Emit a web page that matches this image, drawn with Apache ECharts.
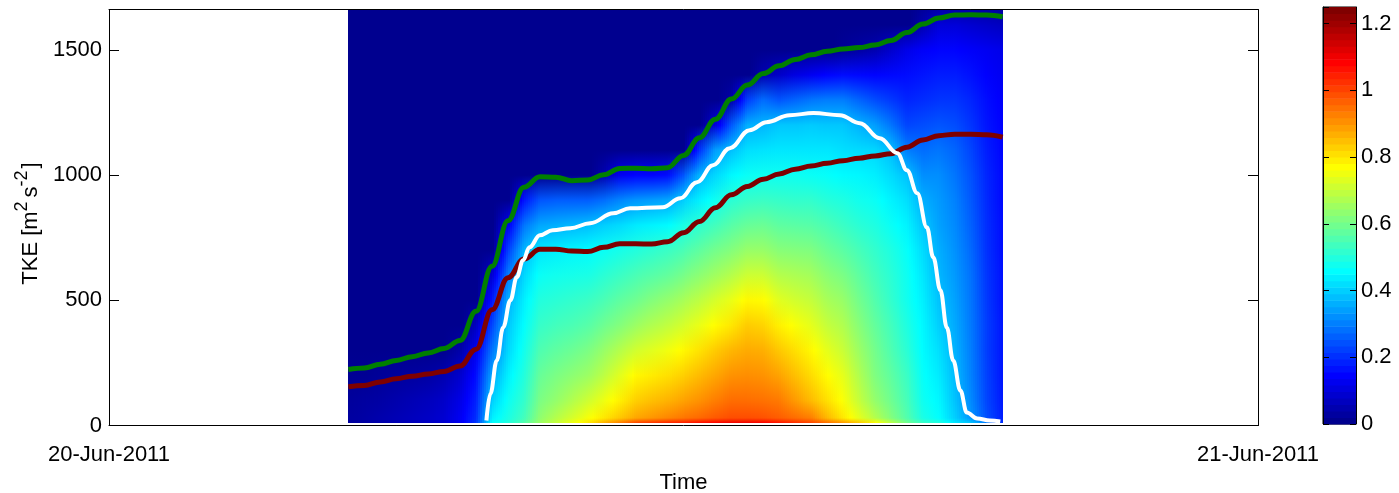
<!DOCTYPE html>
<html>
<head>
<meta charset="utf-8">
<script src="https://cdn.jsdelivr.net/npm/echarts@6/dist/echarts.min.js"></script>
<style>
  html, body { margin: 0; padding: 0; background: #fff; }
  #chart { width: 1399px; height: 493px; }
</style>
</head>
<body>
<div id="chart"></div>
<script>
// Day labels on the time axis
const DAY_LABELS = ['20-Jun-2011', '21-Jun-2011'];

// Sampling times of the TKE field and of the green / dark red heights
const FIELD_TIMES = ['05:00','05:20','05:40','06:00','06:20','06:40','07:00','07:20','07:40','08:00',
  '08:20','08:40','09:00','09:20','09:40','10:00','10:20','10:40','11:00','11:20',
  '11:40','12:00','12:20','12:40','13:00','13:20','13:40','14:00','14:20','14:40',
  '15:00','15:20','15:40','16:00','16:20','16:40','17:00','17:20','17:40','18:00',
  '18:20','18:40'];

// Heights (m) of the profile levels
const HEIGHTS = [10, 30, 100, 200, 300, 400, 500, 600, 700, 800, 900, 1000, 1100, 1200, 1300, 1400, 1500, 1600, 1700];

// TKE profiles, one per time, from the lowest level upward; levels past the end of a profile are 0
const TKE_PROFILES = [
  [0.03,0.03,0.025,0.015],
  [0.035,0.035,0.03,0.015],
  [0.045,0.045,0.035,0.02],
  [0.055,0.055,0.045,0.025],
  [0.065,0.065,0.055,0.03],
  [0.075,0.075,0.065,0.035],
  [0.09,0.09,0.08,0.05,0.01],
  [0.13,0.13,0.115,0.085,0.04],
  [0.21,0.2,0.185,0.16,0.125,0.07],
  [0.46,0.44,0.4,0.35,0.29,0.23,0.17,0.09],
  [0.5,0.49,0.47,0.44,0.41,0.39,0.36,0.3,0.22,0.13],
  [0.56,0.54,0.52,0.5,0.48,0.46,0.44,0.41,0.37,0.29,0.17],
  [0.65,0.635,0.61,0.585,0.555,0.525,0.5,0.47,0.43,0.35,0.25],
  [0.7,0.68,0.64,0.61,0.575,0.54,0.51,0.48,0.44,0.36,0.26],
  [0.75,0.72,0.675,0.63,0.59,0.55,0.52,0.485,0.45,0.37,0.26],
  [0.8,0.76,0.71,0.65,0.61,0.565,0.53,0.49,0.455,0.38,0.26],
  [0.87,0.8,0.75,0.69,0.645,0.595,0.55,0.51,0.47,0.4,0.28,0.05],
  [0.93,0.84,0.79,0.735,0.68,0.62,0.575,0.53,0.485,0.415,0.31,0.13],
  [1.0,0.88,0.83,0.78,0.715,0.65,0.595,0.55,0.5,0.435,0.33,0.15],
  [1.02,0.9,0.85,0.795,0.735,0.675,0.62,0.565,0.515,0.445,0.34,0.15],
  [1.04,0.92,0.865,0.81,0.755,0.695,0.64,0.58,0.53,0.455,0.35,0.16],
  [1.05,0.94,0.885,0.83,0.78,0.72,0.665,0.605,0.55,0.49,0.4,0.25],
  [1.07,0.955,0.905,0.855,0.805,0.745,0.69,0.63,0.575,0.515,0.44,0.365,0.2],
  [1.085,0.975,0.93,0.88,0.835,0.775,0.72,0.655,0.6,0.54,0.475,0.41,0.34,0.1],
  [1.1,0.99,0.95,0.905,0.86,0.8,0.745,0.68,0.62,0.565,0.51,0.45,0.38,0.25,0.04],
  [1.1,0.99,0.95,0.91,0.875,0.835,0.78,0.71,0.645,0.585,0.525,0.47,0.42,0.36,0.22],
  [1.09,0.985,0.945,0.905,0.87,0.825,0.775,0.71,0.645,0.59,0.53,0.475,0.425,0.37,0.28,0.05],
  [1.06,0.97,0.935,0.885,0.84,0.79,0.735,0.68,0.625,0.575,0.525,0.475,0.43,0.39,0.25,0.08],
  [1.03,0.95,0.895,0.85,0.81,0.765,0.715,0.67,0.62,0.57,0.52,0.475,0.43,0.39,0.27,0.11],
  [1.0,0.93,0.855,0.815,0.78,0.74,0.7,0.66,0.615,0.565,0.52,0.47,0.43,0.395,0.29,0.13],
  [0.95,0.86,0.81,0.775,0.74,0.7,0.665,0.63,0.59,0.55,0.505,0.465,0.43,0.39,0.3,0.15],
  [0.9,0.8,0.765,0.74,0.705,0.675,0.645,0.61,0.57,0.53,0.495,0.455,0.42,0.39,0.3,0.16,0.02],
  [0.84,0.74,0.7,0.675,0.65,0.625,0.6,0.575,0.545,0.51,0.48,0.45,0.415,0.365,0.27,0.155,0.035],
  [0.78,0.68,0.64,0.615,0.6,0.58,0.56,0.54,0.52,0.495,0.47,0.44,0.41,0.34,0.24,0.15,0.05],
  [0.69,0.62,0.595,0.575,0.555,0.54,0.52,0.51,0.495,0.47,0.445,0.415,0.38,0.29,0.215,0.155,0.085],
  [0.6,0.56,0.545,0.53,0.51,0.495,0.48,0.475,0.465,0.445,0.42,0.385,0.3,0.23,0.19,0.16,0.12],
  [0.53,0.49,0.475,0.465,0.455,0.45,0.44,0.43,0.415,0.39,0.36,0.32,0.28,0.24,0.2,0.17,0.14,0.05],
  [0.5,0.46,0.45,0.435,0.42,0.4,0.385,0.37,0.36,0.345,0.335,0.32,0.29,0.25,0.21,0.18,0.15,0.1],
  [0.43,0.4,0.385,0.375,0.365,0.355,0.345,0.335,0.325,0.315,0.305,0.29,0.27,0.24,0.21,0.18,0.15,0.1],
  [0.39,0.33,0.315,0.305,0.3,0.295,0.29,0.285,0.275,0.265,0.255,0.245,0.23,0.21,0.19,0.165,0.14,0.09],
  [0.3,0.24,0.23,0.225,0.22,0.22,0.215,0.21,0.205,0.2,0.195,0.19,0.18,0.17,0.16,0.145,0.13,0.08],
  [0.2,0.18,0.175,0.17,0.17,0.17,0.165,0.165,0.16,0.16,0.155,0.155,0.15,0.145,0.14,0.13,0.12,0.07]
];

// Layer heights (m) at FIELD_TIMES
const GREEN_HEIGHTS = [224,230,245,260,275,290,308,340,456,636,818,952,994,992,978,981,1002,1027,1028,1026,
  1030,1079,1150,1224,1304,1360,1406,1437,1462,1481,1495,1504,1510,1520,1538,1570,1604,1628,1640,1641,1640,1633];
const RED_HEIGHTS = [155,160,174,187,197,206,216,238,305,462,590,665,704,704,697,695,712,726,726,725,
  734,770,815,870,922,955,984,1005,1024,1037,1048,1058,1068,1077,1086,1112,1141,1158,1164,1164,1162,1152];

// White layer height, with its own sampling times
const WHITE_TIMES = ['07:53','07:58','08:06','08:14','08:23','08:31','08:39','08:47','09:00','09:16',
  '09:38','10:03','10:32','10:53','11:34','11:56','12:17','12:37','12:58','13:23',
  '13:44','14:13','14:43','15:16','15:41','16:06','16:28','16:40','16:53','17:05',
  '17:13','17:22','17:30','17:38','17:47','17:55','18:08','18:24','18:37'];
const WHITE_HEIGHTS = [20,128,260,392,500,592,660,712,760,780,788,808,848,868,872,908,972,1040,1108,1180,
  1212,1240,1248,1240,1208,1148,1088,1020,928,792,672,540,392,260,140,52,28,20,16];

const Y_MAX = 1662;     // top of the height axis
const C_MAX = 1.25;     // top of the colour scale
const FONT = '"Liberation Sans", Arial, Helvetica, sans-serif';

const toHours = s => { const p = s.split(':').map(Number); return p[0] + p[1] / 60; };
const fieldHours = FIELD_TIMES.map(toHours);

// MATLAB-style jet colormap with m entries
function jetTable(m) {
  const n = Math.ceil(m / 4);
  const u = [];
  for (let i = 1; i <= n; i++) u.push(i / n);
  for (let i = 1; i < n; i++) u.push(1);
  for (let i = n; i >= 1; i--) u.push(i / n);
  const base = Math.ceil(n / 2) - (m % 4 === 1 ? 1 : 0);
  const J = Array.from({ length: m }, () => [0, 0, 0]);
  const g = [], r = [], b = [];
  for (let k = 1; k <= u.length; k++) { g.push(base + k); r.push(base + k + n); b.push(base + k - n); }
  const gK = g.filter(v => v <= m), rK = r.filter(v => v <= m), bK = b.filter(v => v >= 1);
  rK.forEach((idx, k) => { J[idx - 1][0] = u[k]; });
  gK.forEach((idx, k) => { J[idx - 1][1] = u[k]; });
  bK.forEach((idx, k) => { J[idx - 1][2] = u[u.length - bK.length + k]; });
  return J;
}
const JET = jetTable(64);
const rgb = c => 'rgb(' + c.map(x => Math.round(255 * x)).join(',') + ')';

function tkeColor(v) {
  let p = v / C_MAX * JET.length - 0.5;
  p = Math.max(0, Math.min(JET.length - 1, p));
  const k = Math.floor(p), f = p - k;
  const a = JET[k], b = JET[Math.min(k + 1, JET.length - 1)];
  return rgb([0, 1, 2].map(c => a[c] + (b[c] - a[c]) * f));
}

// Shaded field: each interval between two sampling times is filled with
// narrow pixel-aligned strips whose colours blend the two bounding profiles
const SUBSTEPS = 8;
function renderField(params, api) {
  const i = params.dataIndex;
  const tA = fieldHours[i], tB = fieldHours[i + 1];
  const pA = TKE_PROFILES[i], pB = TKE_PROFILES[i + 1];
  const hTop = HEIGHTS[HEIGHTS.length - 1];
  const last = i === fieldHours.length - 2;
  const children = [];
  for (let k = 0; k < SUBSTEPS; k++) {
    const f = (k + 0.5) / SUBSTEPS;
    const t0 = tA + (tB - tA) * k / SUBSTEPS;
    const t1 = tA + (tB - tA) * (k + 1) / SUBSTEPS;
    const left = Math.round(api.coord([t0, 0])[0]);
    const right = Math.round(api.coord([t1, 0])[0]);
    if (right <= left) continue;
    const yBottom = api.coord([t0, HEIGHTS[0]])[1];
    const yClip = api.coord([t0, Math.min(hTop, Y_MAX)])[1];
    const yFull = api.coord([t0, hTop])[1];
    const stops = HEIGHTS.map((h, j) => ({
      offset: (yBottom - api.coord([t0, h])[1]) / (yBottom - yFull),
      color: tkeColor((1 - f) * (pA[j] || 0) + f * (pB[j] || 0))
    }));
    const extra = (last && k === SUBSTEPS - 1) ? 0 : 1;
    children.push({
      type: 'rect',
      shape: { x: left, y: yClip, width: right - left + extra, height: yBottom - yClip },
      style: { fill: new echarts.graphic.LinearGradient(0, yBottom, 0, yFull, stops, true) }
    });
  }
  return { type: 'group', children: children };
}

// Colour bar: 64 bands of the colormap
function renderBar(params, api) {
  const i = params.dataIndex;
  const step = C_MAX / JET.length;
  const p0 = api.coord([0, i * step]);
  const p1 = api.coord([1, (i + 1) * step]);
  return {
    type: 'rect',
    shape: { x: p0[0], y: p1[1], width: p1[0] - p0[0], height: p0[1] - p1[1] + 0.6 },
    style: { fill: rgb(JET[i]) }
  };
}

const frameLine = { show: true, onZero: false, lineStyle: { color: '#000', width: 1 } };
const labelStyle = { color: '#000', fontSize: 22, fontFamily: FONT };

const chart = echarts.init(document.getElementById('chart'), null, { renderer: 'canvas' });
chart.setOption({
  animation: false,
  backgroundColor: '#fff',
  textStyle: { fontFamily: FONT },
  grid: [
    { left: 109, top: 9.5, width: 1149, height: 416, containLabel: false, outerBoundsMode: 'none' },
    { left: 1323, top: 7, width: 33, height: 417, containLabel: false, outerBoundsMode: 'none',
      show: true, borderColor: '#000', borderWidth: 1 }
  ],
  xAxis: [
    {
      gridIndex: 0, type: 'value', min: 0, max: 24, interval: 24, position: 'bottom', z: 5,
      axisLine: frameLine,
      axisTick: { inside: true, length: 10, lineStyle: { color: '#000' } },
      axisLabel: Object.assign({}, labelStyle, { margin: 18, showMinLabel: true, showMaxLabel: true,
        formatter: v => (v === 0 ? DAY_LABELS[0] : DAY_LABELS[1]) }),
      splitLine: { show: false },
      name: 'Time', nameLocation: 'middle', nameGap: 46,
      nameTextStyle: { color: '#000', fontSize: 22, fontFamily: FONT }
    },
    {
      gridIndex: 0, type: 'value', min: 0, max: 24, interval: 24, position: 'top', z: 5,
      axisLine: frameLine, axisTick: { show: false }, axisLabel: { show: false }, splitLine: { show: false }
    },
    { gridIndex: 1, type: 'value', min: 0, max: 1, show: false }
  ],
  yAxis: [
    {
      gridIndex: 0, type: 'value', min: 0, max: Y_MAX, interval: 500, position: 'left', z: 5,
      axisLine: frameLine,
      axisTick: { inside: true, length: 10, lineStyle: { color: '#000' } },
      axisLabel: Object.assign({}, labelStyle, { margin: 7, showMaxLabel: false, formatter: v => String(v) }),
      splitLine: { show: false },
      name: '{a|TKE [m}{b|2}{a|s}{c|-2}{e|]}', nameLocation: 'middle', nameRotate: 90, nameGap: 56,
      nameTextStyle: {
        rich: {
          a: { fontSize: 22, fontFamily: FONT, color: '#000', lineHeight: 36 },
          b: { fontSize: 18, fontFamily: FONT, color: '#000', lineHeight: 18, verticalAlign: 'top', padding: [0, 4, 0, 0] },
          c: { fontSize: 18, fontFamily: FONT, color: '#000', lineHeight: 18, verticalAlign: 'top', padding: [0, 2, 0, 0] },
          e: { fontSize: 22, fontFamily: FONT, color: '#000', lineHeight: 36, padding: [0, 12, 0, 0] }
        }
      }
    },
    {
      gridIndex: 0, type: 'value', min: 0, max: Y_MAX, interval: 500, position: 'right', z: 5,
      axisLine: frameLine,
      axisTick: { inside: true, length: 10, lineStyle: { color: '#000' } },
      axisLabel: { show: false }, splitLine: { show: false }
    },
    {
      gridIndex: 1, type: 'value', min: 0, max: C_MAX, interval: 0.2, position: 'right', z: 5,
      axisLine: frameLine,
      axisTick: { inside: true, length: 6, lineStyle: { color: '#000' } },
      axisLabel: Object.assign({}, labelStyle, { margin: 5, showMaxLabel: false }),
      splitLine: { show: false }
    },
    {
      gridIndex: 1, type: 'value', min: 0, max: C_MAX, interval: 0.2, position: 'left', z: 5,
      axisLine: frameLine,
      axisTick: { inside: true, length: 6, lineStyle: { color: '#000' } },
      axisLabel: { show: false }, splitLine: { show: false }
    }
  ],
  series: [
    {
      type: 'custom', name: 'TKE', xAxisIndex: 0, yAxisIndex: 0,
      data: fieldHours.slice(0, -1).map((h, i) => [h, i]), encode: { x: 0 },
      renderItem: renderField, silent: true, z: 1
    },
    {
      type: 'line', name: 'green', xAxisIndex: 0, yAxisIndex: 0, z: 3,
      data: fieldHours.map((h, i) => [h, GREEN_HEIGHTS[i]]),
      showSymbol: false, smooth: 0.4, smoothMonotone: 'x',
      lineStyle: { color: '#007f00', width: 5 }
    },
    {
      type: 'line', name: 'darkred', xAxisIndex: 0, yAxisIndex: 0, z: 3,
      data: fieldHours.map((h, i) => [h, RED_HEIGHTS[i]]),
      showSymbol: false, smooth: 0.4, smoothMonotone: 'x',
      lineStyle: { color: '#7f0000', width: 5 }
    },
    {
      type: 'line', name: 'white', xAxisIndex: 0, yAxisIndex: 0, z: 4,
      data: WHITE_TIMES.map((s, i) => [toHours(s), WHITE_HEIGHTS[i]]),
      showSymbol: false, smooth: 0.4, smoothMonotone: 'x',
      lineStyle: { color: '#ffffff', width: 4 }
    },
    {
      type: 'custom', name: 'colorbar', xAxisIndex: 2, yAxisIndex: 2,
      data: JET.map((c, i) => [0.5, (i + 0.5) * C_MAX / JET.length]), encode: { x: 0, y: 1 },
      renderItem: renderBar, silent: true, z: 1
    }
  ]
});
</script>
</body>
</html>
